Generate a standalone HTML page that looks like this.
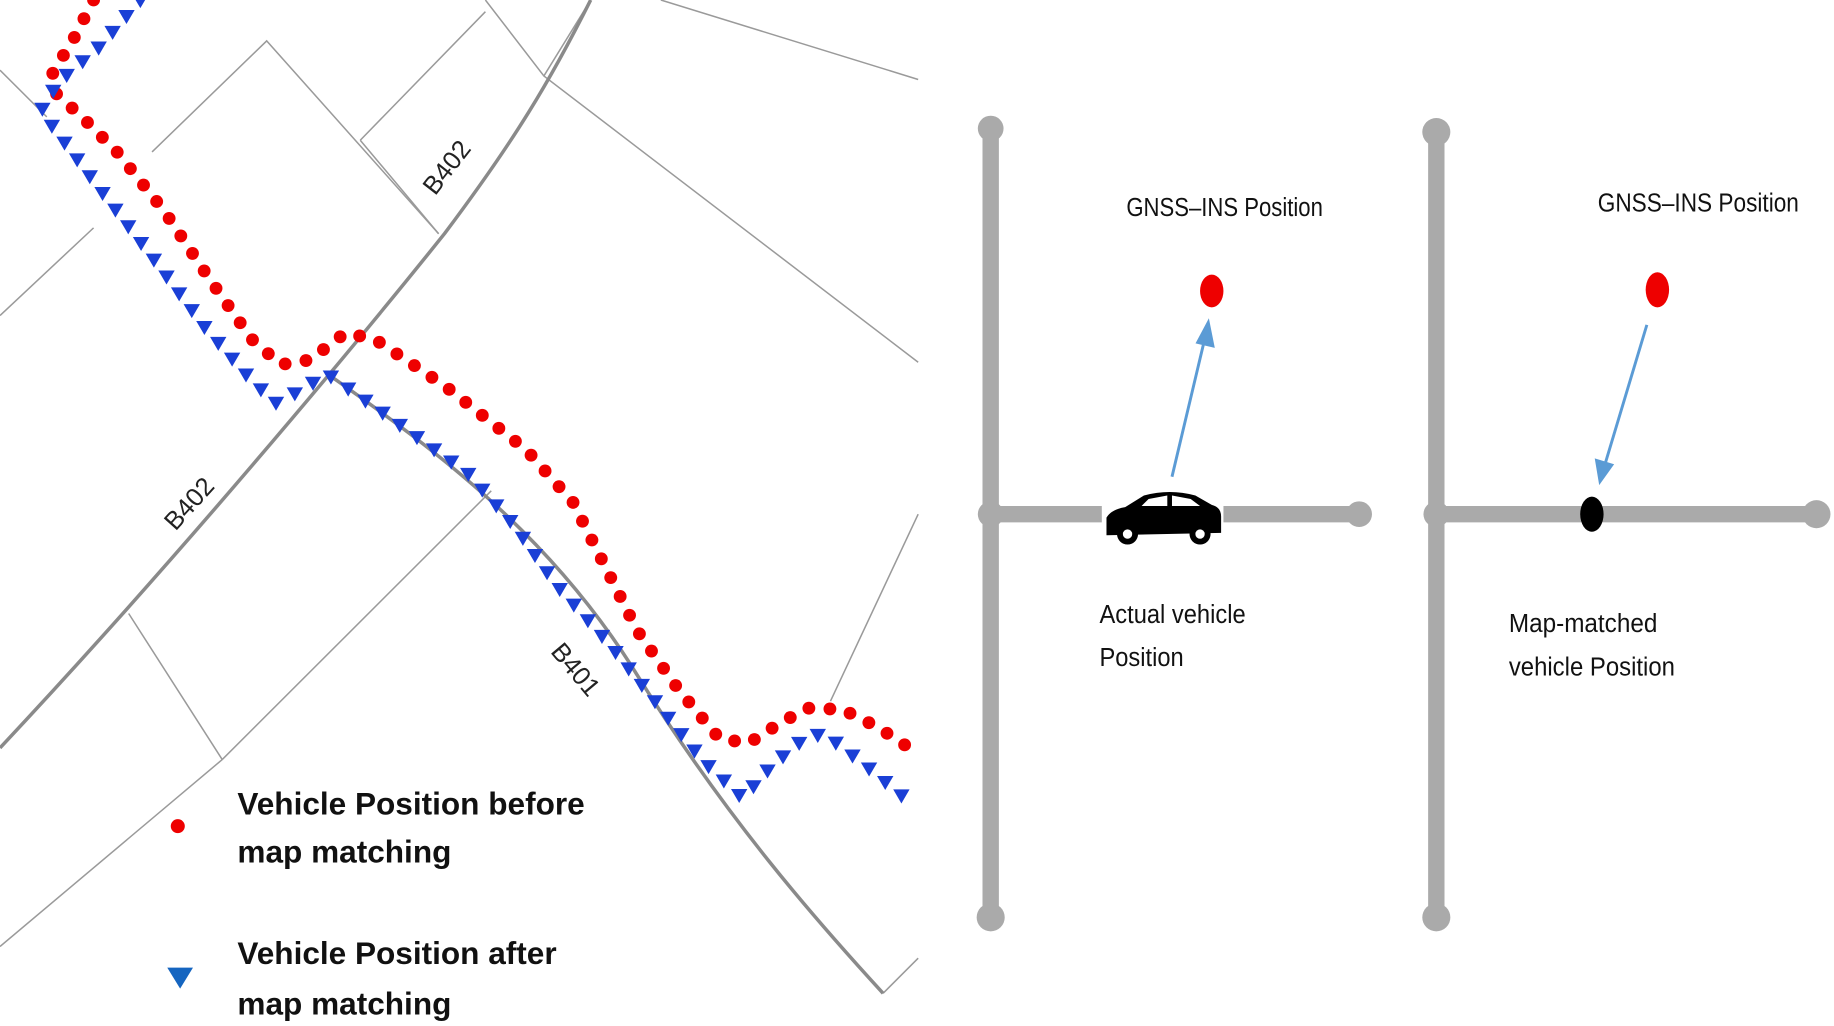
<!DOCTYPE html>
<html><head><meta charset="utf-8">
<style>
html,body{margin:0;padding:0;background:#fff;width:1834px;height:1026px;overflow:hidden}
svg{display:block}
.lab{font-family:"Liberation Sans Narrow","Liberation Sans",sans-serif;font-size:22px;fill:#111}
.leg{font-family:"Liberation Sans",sans-serif;font-weight:bold;font-size:27px;fill:#111}
.rd{font-family:"Liberation Sans",sans-serif;font-size:22px;fill:#222}
</style></head><body>
<svg id="s" width="1834" height="1026" viewBox="0 0 1568 878" preserveAspectRatio="none" xmlns="http://www.w3.org/2000/svg">
<rect width="1568" height="878" fill="#fff"/>
<g stroke="#9a9a9a" stroke-width="1.3" fill="none">
<path d="M0,60 L40,100"/>
<path d="M130,130 L228,35 L375,200"/>
<path d="M308,120 L415,10"/>
<path d="M308,120 L375,200"/>
<path d="M415,0 L465,65 L785,310"/>
<path d="M565,0 L785,68"/>
<path d="M465,65 L505,0"/>
<path d="M0,270 L80,195"/>
<path d="M110,525 L190,650"/>
<path d="M190,650 L420,420"/>
<path d="M0,810 L190,650"/>
<path d="M710,600 L785,440"/>
<path d="M755,850 L785,820"/>
</g>
<g stroke="#8a8a8a" stroke-width="3" fill="none">
<path d="M0,640 C150,480 300,300 380,200 C440,120 470,70 505,0"/>
<path d="M280,320 C380,390 470,460 540,570 C620,700 700,790 755,850"/>
</g>
<text class="rd" transform="translate(372,168) rotate(-52)">B402</text>
<text class="rd" transform="translate(150,455) rotate(-48)">B402</text>
<text class="rd" transform="translate(470,558) rotate(50)">B401</text>
<g id="red"></g><g id="blue"></g>
<circle cx="152" cy="707" r="6" fill="#e00"/>
<path d="M143,828 L165,828 L154,846 Z" fill="#1565c0"/>
<text class="leg" x="203" y="697">Vehicle Position before</text>
<text class="leg" x="203" y="738">map matching</text>
<text class="leg" x="203" y="825">Vehicle Position after</text>
<text class="leg" x="203" y="868">map matching</text>
<g stroke="#aaaaaa" stroke-width="14" fill="none" stroke-linecap="round">
<path d="M847,110 L847,785"/><path d="M847,440 L1162,440"/>
<path d="M1228,113 L1228,785"/><path d="M1228,440 L1553,440"/>
</g>
<g fill="#aaaaaa">
<circle cx="847" cy="110" r="11"/><circle cx="847" cy="785" r="12"/><circle cx="1162" cy="440" r="11"/><circle cx="847" cy="440" r="11"/>
<circle cx="1228" cy="113" r="12"/><circle cx="1228" cy="785" r="12"/><circle cx="1553" cy="440" r="12"/><circle cx="1228" cy="440" r="11"/>
</g>
<ellipse cx="1036" cy="249" rx="10" ry="14" fill="#e00"/>
<ellipse cx="1417" cy="248" rx="10" ry="15" fill="#e00"/>
<ellipse cx="1361" cy="440" rx="10" ry="15" fill="#000"/>
<g stroke="#5b9bd5" stroke-width="2.5" fill="#5b9bd5">
<path d="M1002,408 L1030,290" fill="none"/><path d="M1033,276 L1024,293 L1037,296 Z"/>
<path d="M1408,278 L1372,398" fill="none"/><path d="M1368,412 L1365,394 L1378,398 Z"/>
</g>
<rect x="942" y="422" width="104" height="45" fill="#fff"/>
<path d="M946,458 L946,443 Q950,436 962,434 L978,424 Q1000,418 1022,424 L1036,432 Q1044,434 1044,442 L1044,456 Z" fill="#000"/>
<path d="M982,427 L998,424 L998,433 L976,433 Z M1002,424 L1018,427 L1026,433 L1002,433 Z" fill="#fff"/>
<circle cx="964" cy="457" r="9" fill="#000"/><circle cx="964" cy="457" r="4" fill="#fff"/>
<circle cx="1026" cy="457" r="9" fill="#000"/><circle cx="1026" cy="457" r="4" fill="#fff"/>
<text class="lab" x="963" y="185" textLength="168" lengthAdjust="spacingAndGlyphs">GNSS–INS Position</text>
<text class="lab" x="1366" y="181" textLength="172" lengthAdjust="spacingAndGlyphs">GNSS–INS  Position</text>
<text class="lab" x="940" y="533" textLength="125" lengthAdjust="spacingAndGlyphs">Actual vehicle</text>
<text class="lab" x="940" y="570" textLength="72" lengthAdjust="spacingAndGlyphs">Position</text>
<text class="lab" x="1290" y="541" textLength="127" lengthAdjust="spacingAndGlyphs">Map-matched</text>
<text class="lab" x="1290" y="578" textLength="142" lengthAdjust="spacingAndGlyphs">vehicle Position</text>
</svg>
<script>
function place(pts,step,fn){
 var acc=0;fn(pts[0][0],pts[0][1]);
 for(var i=1;i<pts.length;i++){
  var x0=pts[i-1][0],y0=pts[i-1][1],x1=pts[i][0],y1=pts[i][1];
  var L=Math.hypot(x1-x0,y1-y0),t=step-acc;
  while(t<=L){fn(x0+(x1-x0)*t/L,y0+(y1-y0)*t/L);t+=step;}
  acc=L-(t-step);
 }
}
var NS="http://www.w3.org/2000/svg";
var red=document.getElementById('red'),blue=document.getElementById('blue');
var rp=[[80,0],[62,35],[45,62],[48,80],[70,100],[100,130],[140,180],[180,240],[215,290],[240,312],[265,308],[295,285],[320,290],[380,330],[450,385],[490,430],[515,480],[545,540],[580,590],[615,632],[640,636],[665,620],[690,606],[720,607],[750,622],[785,645]];
place(rp,18,function(x,y){var c=document.createElementNS(NS,'circle');c.setAttribute('cx',x);c.setAttribute('cy',y);c.setAttribute('r',5.5);c.setAttribute('fill','#e00');red.appendChild(c);});
var bp=[[120,0],[85,40],[50,70],[35,95],[80,155],[130,220],[175,280],[210,320],[235,345],[255,335],[280,320],[330,355],[400,405],[440,450],[475,500],[520,550],[560,600],[600,650],[635,683],[660,655],[690,630],[705,628],[740,655],[782,690]];
place(bp,18,function(x,y){var p=document.createElementNS(NS,'path');p.setAttribute('d','M'+(x-7)+','+(y-5)+' L'+(x+7)+','+(y-5)+' L'+x+','+(y+7)+' Z');p.setAttribute('fill','#1a3fd6');blue.appendChild(p);});
</script>
</body></html>
